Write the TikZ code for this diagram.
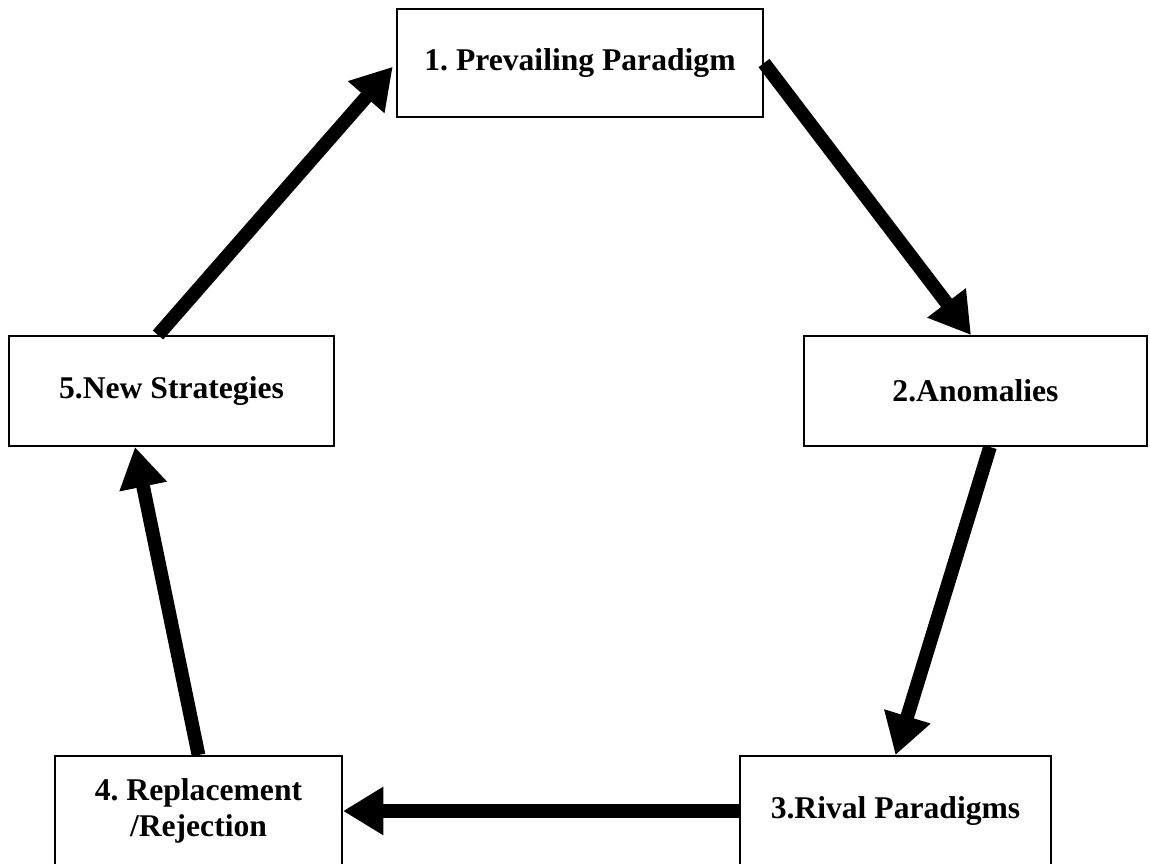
\documentclass[tikz,border=0pt]{standalone}
\usepackage{fontspec}
\setmainfont{Liberation Serif}
\usetikzlibrary{arrows.meta}
\frenchspacing

\begin{document}
\begin{tikzpicture}[x=0.02cm,y=-0.02cm,
  box/.style={draw,line width=1.1pt,rectangle,inner sep=0pt,align=center,
    font=\fontsize{18}{20.5}\selectfont\bfseries},
  flow/.style={-{Triangle[length=23pt,width=26pt]},line width=7.8pt}]
\useasboundingbox (0,0) rectangle (1150,863);
\node[box,minimum width=366*0.02cm,minimum height=108*0.02cm] (prev) at (580,63) {1. Prevailing Paradigm};
\node[box,minimum width=343*0.02cm,minimum height=110*0.02cm] (anom) at (975.5,391) {2.Anomalies};
\node[box,minimum width=311*0.02cm,minimum height=110*0.02cm] (rival) at (895.5,811) {3.Rival Paradigms};
\node[box,minimum width=287*0.02cm,minimum height=110*0.02cm] (repl) at (198.5,811) {4. Replacement\\/Rejection};
\node[box,minimum width=325*0.02cm,minimum height=110*0.02cm] (strat) at (171.5,391) {5.New Strategies};

\draw[flow,shorten >=0.1cm] ([xshift=-0.27cm]strat.north) -- (prev.west);
\draw[flow] (prev.east) -- ([xshift=-0.09cm]anom.north);
\draw[flow] ([xshift=0.29cm]anom.south) -- (rival.north);
\draw[flow] (rival.west) -- (repl.east);
\draw[flow] (repl.north) -- ([xshift=-0.73cm]strat.south);
\end{tikzpicture}
\end{document}
